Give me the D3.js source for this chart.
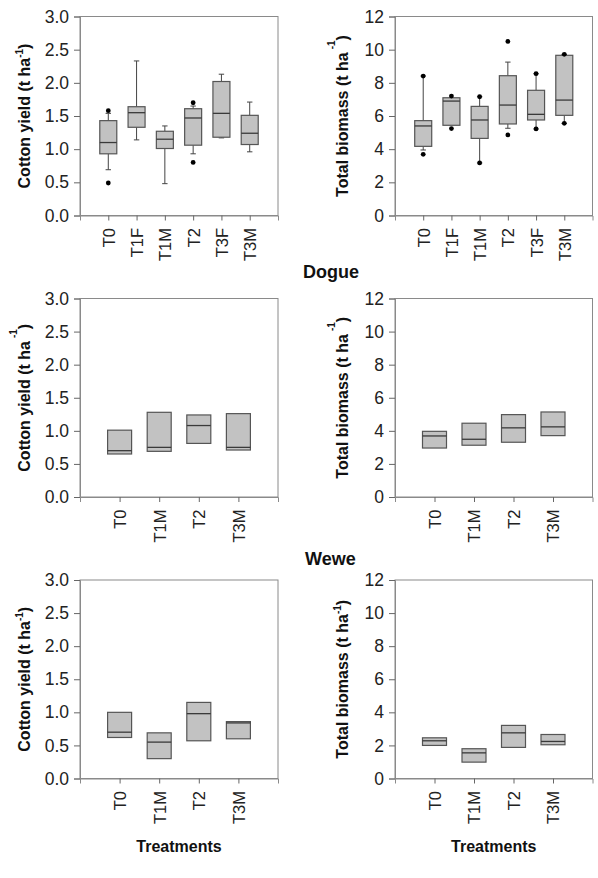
<!DOCTYPE html>
<html>
<head>
<meta charset="utf-8">
<script src="https://cdn.jsdelivr.net/npm/d3@7"></script>
<style>
  body { margin: 0; background: #fff; }
  svg { display: block; font-family: "Liberation Sans", Arial, sans-serif; }
</style>
</head>
<body>
<div id="chart"></div>
<script>
// categories
const catsDogue = ["T0", "T1F", "T1M", "T2", "T3F", "T3M"];
const catsWewe = ["T0", "T1M", "T2", "T3M"];

// Dogue - cotton yield
const dogueYieldQ1  = [0.93, 1.33, 1.01, 1.06, 1.18, 1.07];
const dogueYieldMed = [1.10, 1.55, 1.15, 1.47, 1.54, 1.24];
const dogueYieldQ3  = [1.43, 1.64, 1.27, 1.61, 2.02, 1.51];
const dogueYieldLo  = [0.69, 1.14, 0.48, 0.93, 1.17, 0.96];
const dogueYieldHi  = [1.54, 2.33, 1.35, 1.65, 2.13, 1.71];
const dogueYieldOut = [[1.58, 0.49], [], [], [1.70, 0.80], [], []];

// Dogue - total biomass
const dogueBioQ1  = [4.17, 5.44, 4.65, 5.52, 5.76, 6.04];
const dogueBioMed = [5.40, 6.90, 5.76, 6.66, 6.10, 6.96];
const dogueBioQ3  = [5.72, 7.10, 6.58, 8.43, 7.55, 9.66];
const dogueBioLo  = [3.95, 5.44, 3.17, 5.26, 5.22, 5.56];
const dogueBioHi  = [8.41, 7.10, 7.16, 9.25, 8.55, 9.72];
const dogueBioOut = [[8.41, 3.69], [7.20, 5.24], [7.16, 3.17], [10.50, 4.86], [8.55, 5.22], [9.72, 5.56]];

// Wewe - cotton yield
const weweYieldQ1  = [0.65, 0.69, 0.81, 0.71];
const weweYieldMed = [0.70, 0.75, 1.08, 0.75];
const weweYieldQ3  = [1.01, 1.28, 1.24, 1.26];

// Wewe - total biomass
const weweBioQ1  = [2.96, 3.13, 3.31, 3.71];
const weweBioMed = [3.69, 3.49, 4.18, 4.24];
const weweBioQ3  = [3.97, 4.46, 4.98, 5.14];

// third site - cotton yield
const site3YieldQ1  = [0.62, 0.30, 0.57, 0.60];
const site3YieldMed = [0.70, 0.55, 0.98, 0.84];
const site3YieldQ3  = [1.00, 0.69, 1.15, 0.86];

// third site - total biomass
const site3BioQ1  = [2.00, 0.99, 1.88, 2.04];
const site3BioMed = [2.28, 1.55, 2.76, 2.24];
const site3BioQ3  = [2.46, 1.80, 3.21, 2.66];

const yieldTicks = [0, 0.5, 1, 1.5, 2, 2.5, 3];
const bioTicks = [0, 2, 4, 6, 8, 10, 12];

function rows(cats, q1, med, q3, lo, hi, out) {
  return cats.map((c, i) => ({
    cat: c, q1: q1[i], med: med[i], q3: q3[i],
    lo: lo ? lo[i] : null, hi: hi ? hi[i] : null,
    out: out ? out[i] : []
  }));
}

const width = 598, height = 878;
const svg = d3.select("#chart").append("svg")
  .attr("width", width)
  .attr("height", height);

const colL = [80, 278], colR = [395, 592.5];
const rowY = [[16.5, 215.5], [298.5, 497], [580, 778.5]];

const panels = [
  { x: colL, y: rowY[0], max: 3, ticks: yieldTicks, fmt: ".1f", kind: "yield", sup: "tight", bw: 17,
    data: rows(catsDogue, dogueYieldQ1, dogueYieldMed, dogueYieldQ3, dogueYieldLo, dogueYieldHi, dogueYieldOut) },
  { x: colR, y: rowY[0], max: 12, ticks: bioTicks, fmt: "d", kind: "bio", sup: "loose", bw: 17,
    data: rows(catsDogue, dogueBioQ1, dogueBioMed, dogueBioQ3, dogueBioLo, dogueBioHi, dogueBioOut) },
  { x: colL, y: rowY[1], max: 3, ticks: yieldTicks, fmt: ".1f", kind: "yield", sup: "loose", bw: 24,
    data: rows(catsWewe, weweYieldQ1, weweYieldMed, weweYieldQ3) },
  { x: colR, y: rowY[1], max: 12, ticks: bioTicks, fmt: "d", kind: "bio", sup: "loose", bw: 24,
    data: rows(catsWewe, weweBioQ1, weweBioMed, weweBioQ3) },
  { x: colL, y: rowY[2], max: 3, ticks: yieldTicks, fmt: ".1f", kind: "yield", sup: "tight", bw: 24, xlabel: true,
    data: rows(catsWewe, site3YieldQ1, site3YieldMed, site3YieldQ3) },
  { x: colR, y: rowY[2], max: 12, ticks: bioTicks, fmt: "d", kind: "bio", sup: "tight", bw: 24, xlabel: true,
    data: rows(catsWewe, site3BioQ1, site3BioMed, site3BioQ3) }
];

const frameCol = "#8a8a8a", boxStroke = "#555", boxFill = "#c2c2c2", whiskCol = "#444";

panels.forEach(p => {
  const g = svg.append("g");
  const x = d3.scalePoint().domain(p.data.map(d => d.cat)).range(p.x).padding(1);
  const y = d3.scaleLinear().domain([0, p.max]).range([p.y[1], p.y[0]]);

  // frame
  g.append("rect")
    .attr("x", p.x[0]).attr("y", p.y[0])
    .attr("width", p.x[1] - p.x[0]).attr("height", p.y[1] - p.y[0])
    .attr("fill", "none").attr("stroke", frameCol);

  const yAxis = g.append("g")
    .attr("transform", `translate(${p.x[0]},0)`)
    .call(d3.axisLeft(y).tickValues(p.ticks).tickFormat(d3.format(p.fmt)).tickSize(6).tickPadding(5));
  yAxis.select(".domain").attr("stroke", frameCol);
  yAxis.selectAll(".tick line").attr("stroke", "#666");
  yAxis.selectAll("text").attr("font-size", 17.5).attr("fill", "#222")
    .attr("font-family", "Liberation Sans, Arial, sans-serif");

  const xAxis = g.append("g")
    .attr("transform", `translate(0,${p.y[1]})`)
    .call(d3.axisBottom(x).tickSize(5).tickPadding(0));
  xAxis.select(".domain").attr("stroke", frameCol);
  xAxis.selectAll(".tick line").attr("stroke", "#666");
  xAxis.selectAll("text")
    .attr("font-size", 16.5).attr("fill", "#222")
    .attr("font-family", "Liberation Sans, Arial, sans-serif")
    .attr("text-anchor", "end")
    .attr("transform", "rotate(-90)")
    .attr("x", -12.5).attr("y", 0).attr("dy", "0.36em");

  // whiskers
  const wData = p.data.filter(d => d.lo != null);
  const bw = p.bw;
  wData.forEach(d => {
    const cx = x(d.cat);
    [[d.q3, d.hi], [d.q1, d.lo]].forEach(([a, b]) => {
      if (Math.abs(a - b) < 1e-6) return;
      g.append("line").attr("x1", cx).attr("x2", cx)
        .attr("y1", y(a)).attr("y2", y(b))
        .attr("stroke", whiskCol).attr("stroke-width", 1);
      g.append("line").attr("x1", cx - 2.7).attr("x2", cx + 2.7)
        .attr("y1", y(b)).attr("y2", y(b))
        .attr("stroke", whiskCol).attr("stroke-width", 1);
    });
  });

  // boxes
  g.selectAll("rect.box").data(p.data).join("rect")
    .attr("class", "box")
    .attr("x", d => x(d.cat) - bw / 2)
    .attr("y", d => y(d.q3))
    .attr("width", bw)
    .attr("height", d => y(d.q1) - y(d.q3))
    .attr("fill", boxFill).attr("stroke", boxStroke).attr("stroke-width", 1.2);

  g.selectAll("line.med").data(p.data).join("line")
    .attr("class", "med")
    .attr("x1", d => x(d.cat) - bw / 2).attr("x2", d => x(d.cat) + bw / 2)
    .attr("y1", d => y(d.med)).attr("y2", d => y(d.med))
    .attr("stroke", "#3a3a3a").attr("stroke-width", 1.3);

  // outliers
  const pts = p.data.flatMap(d => d.out.map(v => ({ cat: d.cat, v })));
  g.selectAll("circle").data(pts).join("circle")
    .attr("cx", d => x(d.cat)).attr("cy", d => y(d.v)).attr("r", 2.4)
    .attr("fill", "#000");

  // y label
  const lx = p.x[0] === colL[0] ? 30 : 348;
  const cy = (p.y[0] + p.y[1]) / 2;
  const lab = g.append("text")
    .attr("transform", `translate(${lx},${cy}) rotate(-90)`)
    .attr("text-anchor", "middle")
    .attr("font-size", 16).attr("font-weight", "bold").attr("fill", "#111");
  lab.append("tspan").text(p.kind === "yield" ? "Cotton yield (t ha" : "Total biomass (t ha");
  if (p.sup === "tight") {
    lab.append("tspan").attr("font-size", 10).attr("dy", -7).text("-1");
    lab.append("tspan").attr("dy", 7).text(")");
  } else {
    lab.append("tspan").attr("font-size", 10).attr("dx", 3).attr("dy", -13).text("-1");
    lab.append("tspan").attr("dx", 0).attr("dy", 13).text(")");
  }

  if (p.xlabel) {
    g.append("text")
      .attr("x", (p.x[0] + p.x[1]) / 2).attr("y", 852)
      .attr("text-anchor", "middle")
      .attr("font-size", 16).attr("font-weight", "bold").attr("fill", "#111")
      .text("Treatments");
  }
});

// site labels
svg.append("text").attr("x", 303).attr("y", 278)
  .attr("font-size", 18).attr("font-weight", "bold").attr("fill", "#111").text("Dogue");
svg.append("text").attr("x", 305).attr("y", 565)
  .attr("font-size", 18).attr("font-weight", "bold").attr("fill", "#111").text("Wewe");
</script>
</body>
</html>
